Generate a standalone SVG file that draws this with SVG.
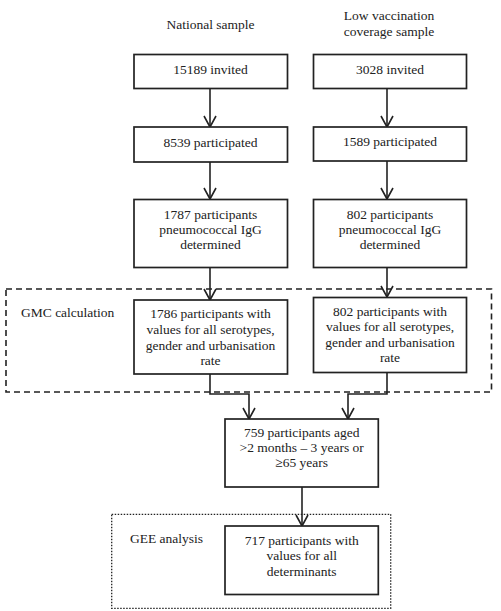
<svg xmlns="http://www.w3.org/2000/svg" width="501" height="611" viewBox="0 0 501 611">
<style>
.c{text-anchor:middle;}
.box{fill:#fff;stroke:#222;stroke-width:1.7;}
.ln{fill:none;stroke:#222;stroke-width:1.6;}
</style>
<defs>
<marker id="ah" markerUnits="userSpaceOnUse" markerWidth="14" markerHeight="14" viewBox="0 0 14 14" refX="12" refY="7" orient="auto">
<path d="M1,1 L12,7 L1,13" fill="none" stroke="#222" stroke-width="1.6"/>
</marker>
</defs>
<rect x="6" y="289" width="485.5" height="103" fill="none" stroke="#222" stroke-width="1.6" stroke-dasharray="6,4"/>
<rect x="111.7" y="514.3" width="279" height="94" fill="none" stroke="#222" stroke-width="1.3" stroke-dasharray="1.5,1.5"/>
<g font-family="Liberation Serif, serif" font-size="13.5" fill="#222">
<text class="c" x="210.5" y="29">National sample</text>
<text class="c" x="389" y="20">Low vaccination</text>
<text class="c" x="389" y="36">coverage sample</text>
<text x="21" y="317">GMC calculation</text>
<text x="130" y="543">GEE analysis</text>
</g>
<g id="connectors">
<path class="ln" d="M210,88 V127" marker-end="url(#ah)"/>
<path class="ln" d="M210,162 V199" marker-end="url(#ah)"/>
<path class="ln" d="M210,268 V300" marker-end="url(#ah)"/>
<path class="ln" d="M387,88 V127" marker-end="url(#ah)"/>
<path class="ln" d="M387,161 V199" marker-end="url(#ah)"/>
<path class="ln" d="M387,268 V297" marker-end="url(#ah)"/>
<path class="ln" d="M210,374 V394 H249 V419" marker-end="url(#ah)"/>
<path class="ln" d="M387,373 V394 H348 V419" marker-end="url(#ah)"/>
<path class="ln" d="M302,487 V526" marker-end="url(#ah)"/>
</g>
<g font-family="Liberation Serif, serif" font-size="13.5" fill="#222">
<g id="n1"><rect class="box" x="134" y="54.5" width="153.5" height="34"/><text class="c" x="210.5" y="74">15189 invited</text></g>
<g id="n2"><rect class="box" x="313.5" y="54.5" width="153" height="34"/><text class="c" x="390" y="74">3028 invited</text></g>
<g id="n3"><rect class="box" x="134" y="127" width="153.5" height="35"/><text class="c" x="210.5" y="147">8539 participated</text></g>
<g id="n4"><rect class="box" x="313.5" y="127" width="153" height="34"/><text class="c" x="390" y="146">1589 participated</text></g>
<g id="n5"><rect class="box" x="134" y="199.5" width="153.5" height="68"/><text class="c" x="210.5" y="219">1787 participants</text><text class="c" x="210.5" y="234">pneumococcal IgG</text><text class="c" x="210.5" y="249">determined</text></g>
<g id="n6"><rect class="box" x="313.5" y="199.5" width="153" height="68"/><text class="c" x="390" y="219">802 participants</text><text class="c" x="390" y="234">pneumococcal IgG</text><text class="c" x="390" y="249">determined</text></g>
<g id="n7"><rect class="box" x="134" y="300" width="153.5" height="74"/><text class="c" x="210.5" y="318">1786 participants with</text><text class="c" x="210.5" y="334">values for all serotypes,</text><text class="c" x="210.5" y="349.5">gender and urbanisation</text><text class="c" x="210.5" y="365">rate</text></g>
<g id="n8"><rect class="box" x="313.5" y="297.5" width="153" height="75"/><text class="c" x="390" y="315.5">802 participants with</text><text class="c" x="390" y="331">values for all serotypes,</text><text class="c" x="390" y="346.5">gender and urbanisation</text><text class="c" x="390" y="362">rate</text></g>
<g id="n9"><rect class="box" x="225" y="419" width="153.3" height="68"/><text class="c" x="301.7" y="436.5">759 participants aged</text><text class="c" x="301.7" y="452">&gt;2 months – 3 years or</text><text class="c" x="301.7" y="467">≥65 years</text></g>
<g id="n10"><rect class="box" x="225" y="526" width="153.3" height="68.5"/><text class="c" x="301.7" y="544.5">717 participants with</text><text class="c" x="301.7" y="560">values for all</text><text class="c" x="301.7" y="575.5">determinants</text></g>
</g>
</svg>
